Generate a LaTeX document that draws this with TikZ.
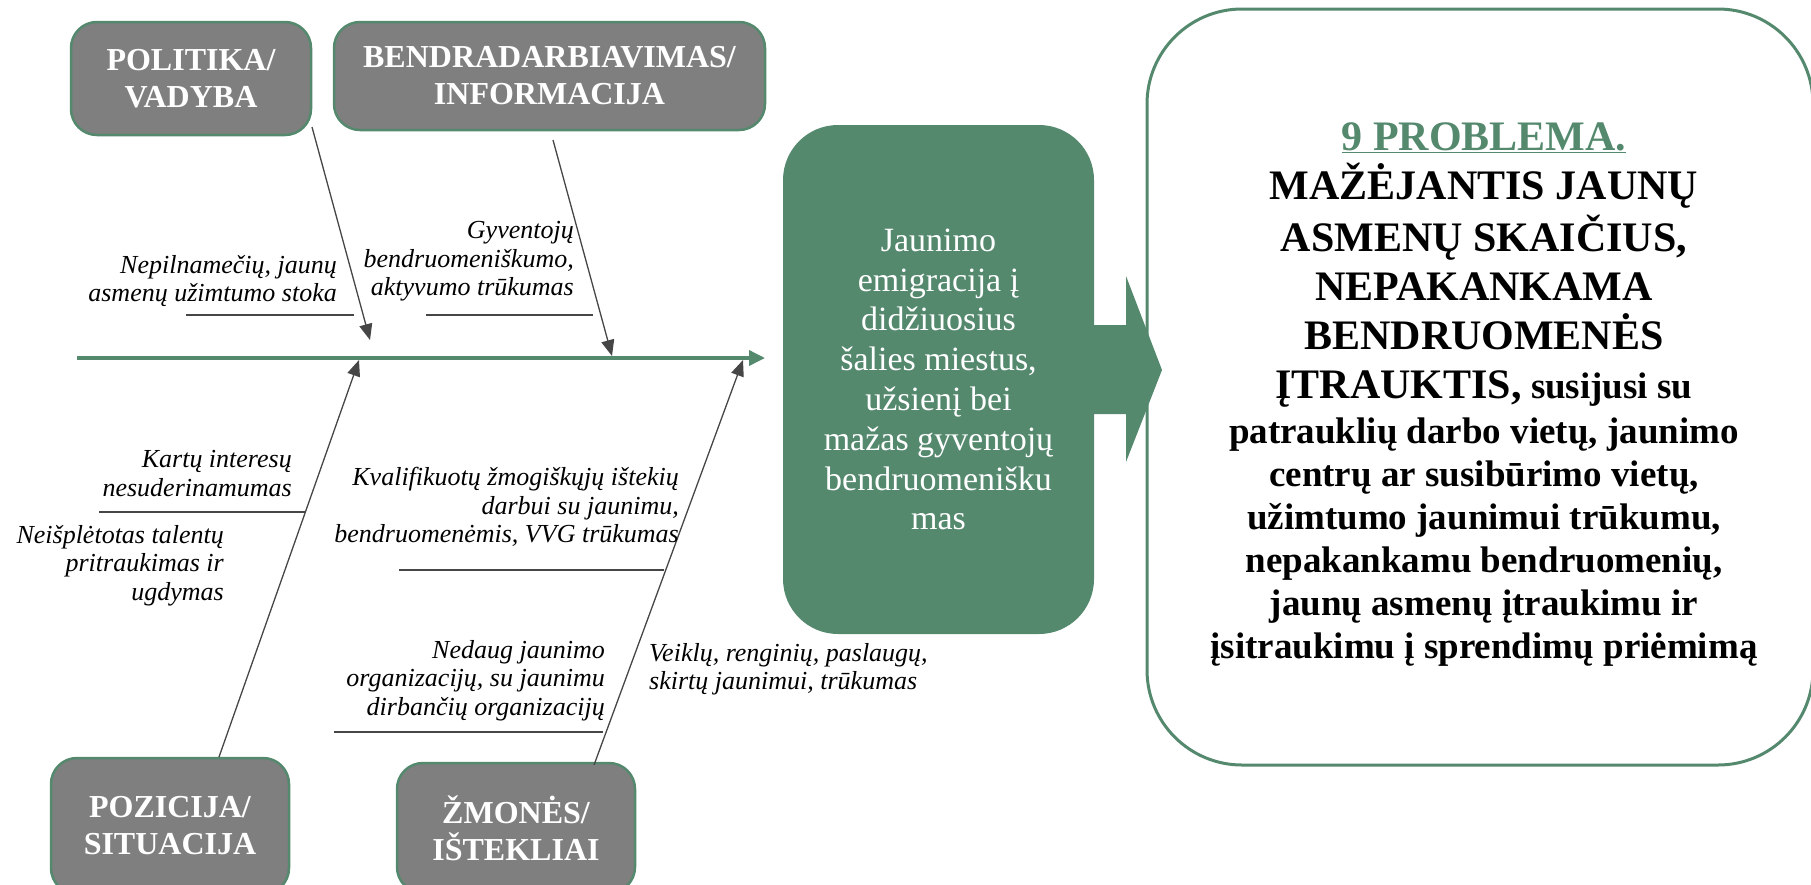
\documentclass[tikz,border=0pt]{standalone}
\usepackage{fontspec}
\setmainfont{Liberation Serif}
\usetikzlibrary{arrows.meta,positioning}
\definecolor{fishgreen}{RGB}{84,137,110}
\definecolor{boxgray}{RGB}{127,127,127}
\definecolor{bonegray}{RGB}{70,70,70}
\tikzset{
  catbox/.style={draw=fishgreen, line width=2.5pt, fill=boxgray, rounded corners=26pt, text=white, font=\fontsize{32}{37}\selectfont\bfseries, align=center, inner sep=0pt},
  cause/.style={font=\fontsize{26}{28.5}\selectfont\itshape, inner sep=0pt},
  bone/.style={draw=bonegray, line width=1.3pt, -{Triangle[length=16pt,width=13pt]}},
  rib/.style={draw=bonegray, line width=1.2pt},
  spine/.style={draw=fishgreen, line width=3.5pt, -{Triangle[length=16pt,width=15pt]}}
}
\begin{document}
\begin{tikzpicture}[x=1pt,y=-1pt]
\useasboundingbox (0,0) rectangle (1811,884);
\node[catbox, minimum width=240pt, minimum height=113pt] (politika) at (191,78.5) {POLITIKA/\\VADYBA};
\node[catbox, minimum width=431pt, minimum height=108pt] (bendra) at (549.5,76) {BENDRADARBIAVIMAS/\\INFORMACIJA};
\node[catbox, minimum width=238pt, minimum height=136pt] (pozicija) at (170,826) {POZICIJA/\\SITUACIJA};
\node[catbox, minimum width=238pt, minimum height=130pt] (zmones) at (516,828) {ŽMONĖS/\\IŠTEKLIAI};
\coordinate (spineL) at (77,358);
\coordinate (spineR) at (765,358);
\draw[spine] (spineL) -- (spineR);
\coordinate (p1) at (312,127);
\coordinate (q1) at (370,340);
\coordinate (p2) at (553,140);
\coordinate (q2) at (612,356);
\coordinate (p3) at (219,757);
\coordinate (q3) at (359,360);
\coordinate (p4) at (594,765);
\coordinate (q4) at (743,360);
\draw[bone] (p1) -- (q1);
\draw[bone] (p2) -- (q2);
\draw[bone] (p3) -- (q3);
\draw[bone] (p4) -- (q4);
\node[cause, align=right, anchor=north east] (c1) at (337,255.2) {Nepilnamečių, jaunų\\asmenų užimtumo stoka};
\node[cause, align=right, anchor=north east] (c2) at (574,221.2) {Gyventojų\\bendruomeniškumo,\\aktyvumo trūkumas};
\node[cause, align=right, anchor=north east] (c3) at (292,450.2) {Kartų interesų\\nesuderinamumas};
\node[cause, align=right, anchor=north east] (c4) at (224,525.2) {Neišplėtotas talentų\\pritraukimas ir\\ugdymas};
\node[cause, align=right, anchor=north east] (c5) at (679,467.2) {Kvalifikuotų žmogiškųjų ištekių\\darbui su jaunimu,\\bendruomenėmis, VVG trūkumas};
\node[cause, align=right, anchor=north east] (c6) at (605,640.2) {Nedaug jaunimo\\organizacijų, su jaunimu\\dirbančių organizacijų};
\node[cause, align=left, anchor=north west] (c7) at (649,643.2) {Veiklų, renginių, paslaugų,\\skirtų jaunimui, trūkumas};
\draw[rib] (186,315) -- (354,315);
\draw[rib] (426,315) -- (593,315);
\draw[rib] (99,512) -- (305,512);
\draw[rib] (399,570) -- (664,570);
\draw[rib] (334,732) -- (603,732);
\node[fill=fishgreen, rounded corners=55pt, minimum width=311pt, minimum height=509pt, inner sep=0pt, text=white, font=\fontsize{34}{39.8}\selectfont, align=center] (priezastis) at (938.5,379.5) {Jaunimo\\emigracija į\\didžiuosius\\šalies miestus,\\užsienį bei\\mažas gyventojų\\bendruomenišku\\mas};
\fill[fishgreen] (1090,325) -- (1126,325) -- (1126,276) -- (1162,370) -- (1126,462) -- (1126,414) -- (1090,414) -- cycle;
\node[draw=fishgreen, line width=3pt, rounded corners=95pt, minimum width=666pt, minimum height=756pt, inner sep=0pt] (problema) at (1480,387) {};
\node[font=\fontsize{37}{43}\selectfont\bfseries, align=center, inner sep=0pt, anchor=north] (problematxt) at (1484,122.6)
  {{\color{fishgreen}\fontsize{42}{49}\selectfont\underline{9 PROBLEMA.}}\\[6pt]
   {\fontsize{42}{49}\selectfont MAŽĖJANTIS JAUNŲ}\\[6pt]
   {\fontsize{42}{49}\selectfont ASMENŲ SKAIČIUS,}\\[6pt]
   {\fontsize{42}{49}\selectfont NEPAKANKAMA}\\[6pt]
   {\fontsize{42}{49}\selectfont BENDRUOMENĖS}\\[6pt]
   {\fontsize{42}{49}\selectfont ĮTRAUKTIS,} susijusi su\\[2pt]
   patrauklių darbo vietų, jaunimo\\
   centrų ar susibūrimo vietų,\\
   užimtumo jaunimui trūkumu,\\
   nepakankamu bendruomenių,\\
   jaunų asmenų įtraukimu ir\\
   įsitraukimu į sprendimų priėmimą};
\end{tikzpicture}
\end{document}
